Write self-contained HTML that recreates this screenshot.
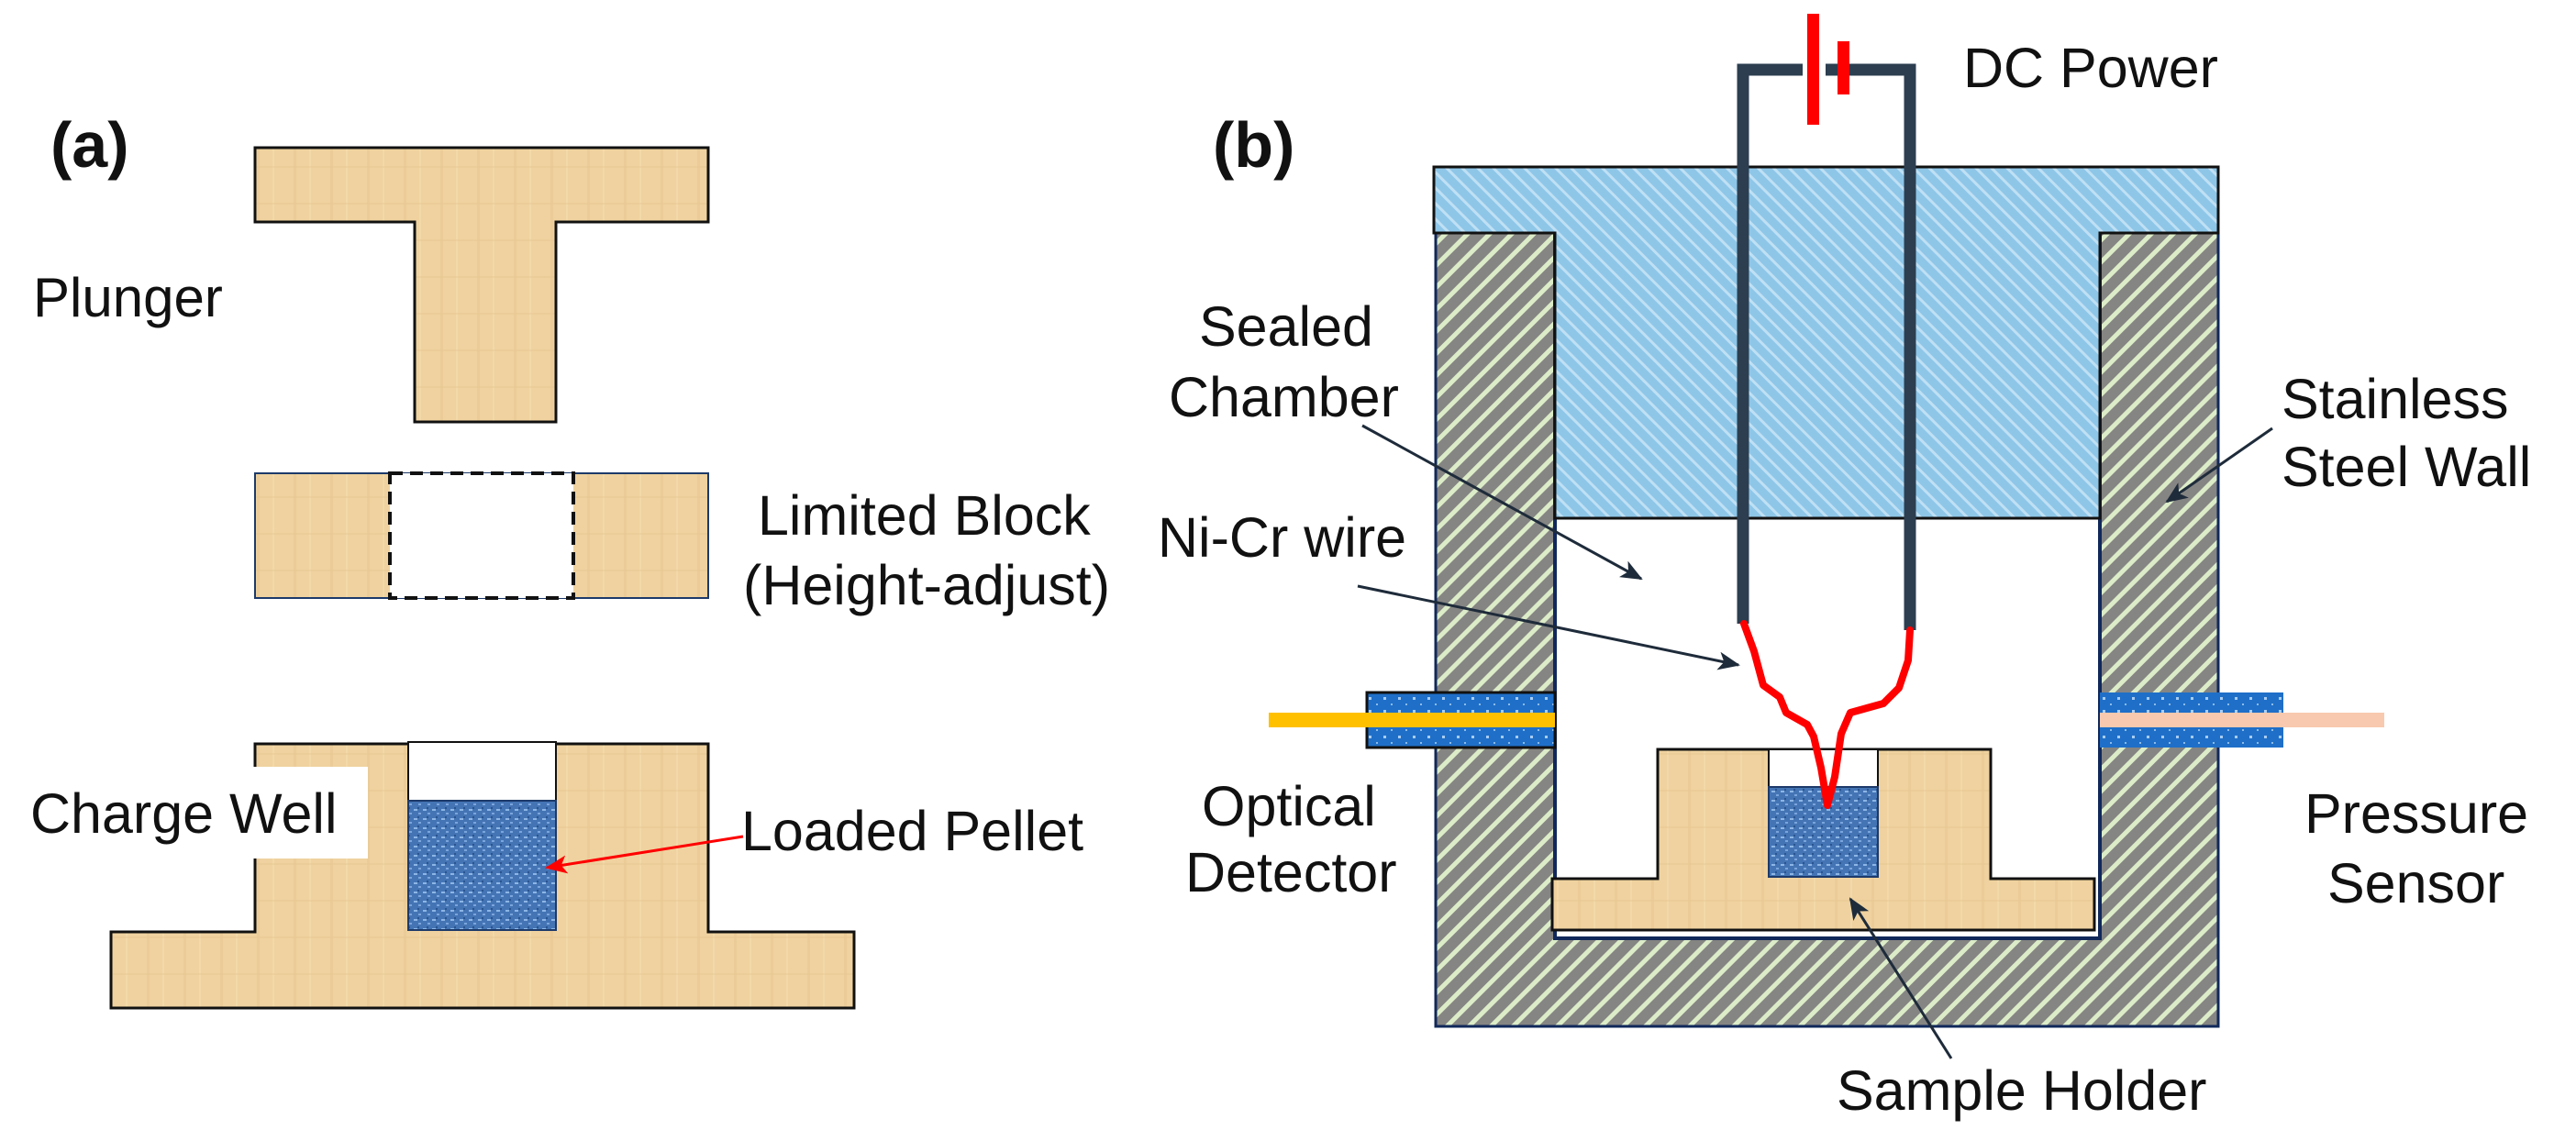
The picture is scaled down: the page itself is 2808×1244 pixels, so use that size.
<!DOCTYPE html>
<html><head><meta charset="utf-8"><style>
html,body{margin:0;padding:0;background:#fff;}
svg{display:block;}
text{font-family:"Liberation Sans",Arial,sans-serif;fill:#111;}
</style></head><body>
<svg width="2808" height="1244" viewBox="0 0 2808 1244" xmlns="http://www.w3.org/2000/svg">
<defs>
<pattern id="wood" width="40" height="40" patternUnits="userSpaceOnUse">
<rect width="40" height="40" fill="#efd29f"/>
<rect x="0" y="0" width="3" height="40" fill="#e8c892" opacity=".6"/>
<rect x="17" y="0" width="2" height="40" fill="#f4dcad" opacity=".7"/>
<rect x="0" y="21" width="40" height="2" fill="#e6c690" opacity=".4"/>
</pattern>
<pattern id="pellet" width="10" height="10" patternUnits="userSpaceOnUse">
<rect width="10" height="10" fill="#4474b4"/>
<rect x="1" y="2" width="4" height="2" fill="#8db6e6"/>
<rect x="6" y="6" width="3" height="2" fill="#7aa5dd"/>
<rect x="5" y="0" width="2" height="2" fill="#2a5590"/>
</pattern>
<pattern id="steel" width="17" height="17" patternUnits="userSpaceOnUse" patternTransform="rotate(45)">
<rect width="17" height="17" fill="#858583"/>
<rect x="0" y="0" width="5" height="17" fill="#dcecc8"/>
</pattern>
<pattern id="lid" width="12" height="12" patternUnits="userSpaceOnUse" patternTransform="rotate(-45)">
<rect width="12" height="12" fill="#8ec6e8"/>
<rect x="0" y="0" width="3" height="12" fill="#bfe0f4"/>
</pattern>
<pattern id="port" width="16" height="14" patternUnits="userSpaceOnUse">
<rect width="16" height="14" fill="#1f6fc8"/>
<rect x="4" y="4" width="3" height="3" fill="#a8cdf2"/>
<rect x="12" y="11" width="2" height="2" fill="#8bbbe8"/>
</pattern>
<marker id="arrB" markerWidth="24" markerHeight="20" refX="22" refY="10" orient="auto" markerUnits="userSpaceOnUse" viewBox="0 0 24 20"><path d="M0,0 L24,10 L0,20 L6,10z" fill="#1e2b3a"/></marker>
<marker id="arrR" markerWidth="24" markerHeight="20" refX="22" refY="10" orient="auto" markerUnits="userSpaceOnUse" viewBox="0 0 24 20"><path d="M0,0 L24,10 L0,20 L6,10z" fill="#f00"/></marker>
</defs>

<!-- (a) -->
<text x="55" y="182" font-size="70" font-weight="bold">(a)</text>
<path d="M278,161 H772 V242 H606 V460 H452 V242 H278 Z" fill="url(#wood)" stroke="#111" stroke-width="3"/>
<text x="36" y="345" font-size="60">Plunger</text>
<rect x="278" y="516" width="494" height="136" fill="url(#wood)" stroke="#1d3a6a" stroke-width="2"/>
<rect x="425" y="516" width="200" height="136" fill="#fff" stroke="#111" stroke-width="4" stroke-dasharray="14,8"/>
<text x="826" y="583" font-size="61">Limited Block</text>
<text x="810" y="659" font-size="61">(Height-adjust)</text>
<path d="M278,811 H772 V1016 H931 V1099 H121 V1016 H278 Z" fill="url(#wood)" stroke="#111" stroke-width="3"/>
<rect x="445" y="809" width="161" height="64" fill="#fff" stroke="#111" stroke-width="2"/>
<rect x="445" y="873" width="161" height="141" fill="url(#pellet)" stroke="#1d3a6a" stroke-width="2"/>
<rect x="31" y="836" width="370" height="100" fill="#fff"/>
<text x="33" y="908" font-size="61">Charge Well</text>
<text x="808" y="927" font-size="61">Loaded Pellet</text>
<line x1="810" y1="912" x2="596" y2="946" stroke="#f00" stroke-width="3" marker-end="url(#arrR)"/>

<!-- (b) -->
<text x="1322" y="182" font-size="70" font-weight="bold">(b)</text>
<path d="M1565,252 H2418 V1119 H1565 Z" fill="url(#steel)" stroke="#10285a" stroke-width="3"/>
<path d="M1695,252 H2289 V1023 H1695 Z" fill="#fff" stroke="#10285a" stroke-width="4"/>
<path d="M1563,182 H2418 V254 H2289 V565 H1695 V254 H1563 Z" fill="url(#lid)" stroke="#111" stroke-width="3"/>
<rect x="1490" y="755" width="205" height="60" fill="url(#port)" stroke="#111" stroke-width="3"/>
<rect x="2289" y="755" width="200" height="60" fill="url(#port)"/>
<rect x="1383" y="777" width="312" height="16" fill="#ffc000"/>
<rect x="2289" y="777" width="310" height="16" fill="#f8c9ae"/>
<path d="M1807,817 H2170 V958 H2283 V1014 H1692 V958 H1807 Z" fill="url(#wood)" stroke="#111" stroke-width="3"/>
<rect x="1928" y="817" width="119" height="41" fill="#fff" stroke="#111" stroke-width="2"/>
<rect x="1928" y="858" width="119" height="98" fill="url(#pellet)" stroke="#1d3a6a" stroke-width="2"/>
<path d="M1900,680 V76 H2082 V687" fill="none" stroke="#2c3e50" stroke-width="13"/>
<rect x="1965" y="65" width="25" height="22" fill="#fff"/>
<rect x="1970" y="15" width="13" height="121" fill="#f00"/>
<rect x="2003" y="45" width="13" height="58" fill="#f00"/>
<path d="M1901,680 L1912,710 L1922,747 L1940,760 L1947,777 L1970,790 L1977,803 L1985,837 L1992,878 L2000,847 L2007,800 L2017,777 L2053,767 L2070,750 L2080,720 L2082,687" fill="none" stroke="#f00" stroke-width="8" stroke-linejoin="round" stroke-linecap="round"/>
<text x="2140" y="95" font-size="61">DC Power</text>
<text x="1307" y="377" font-size="61">Sealed</text>
<text x="1274" y="454" font-size="61">Chamber</text>
<text x="1262" y="607" font-size="61">Ni-Cr wire</text>
<text x="1310" y="900" font-size="61">Optical</text>
<text x="1292" y="972" font-size="61">Detector</text>
<text x="2487" y="456" font-size="61">Stainless</text>
<text x="2487" y="530" font-size="61">Steel Wall</text>
<text x="2512" y="908" font-size="61">Pressure</text>
<text x="2537" y="984" font-size="61">Sensor</text>
<text x="2002" y="1210" font-size="61">Sample Holder</text>
<line x1="1485" y1="464" x2="1789" y2="631" stroke="#1e2b3a" stroke-width="3" marker-end="url(#arrB)"/>
<line x1="1480" y1="639" x2="1895" y2="725" stroke="#1e2b3a" stroke-width="3" marker-end="url(#arrB)"/>
<line x1="2477" y1="467" x2="2362" y2="547" stroke="#1e2b3a" stroke-width="3" marker-end="url(#arrB)"/>
<line x1="2127" y1="1154" x2="2017" y2="980" stroke="#1e2b3a" stroke-width="3" marker-end="url(#arrB)"/>
</svg>
</body></html>
